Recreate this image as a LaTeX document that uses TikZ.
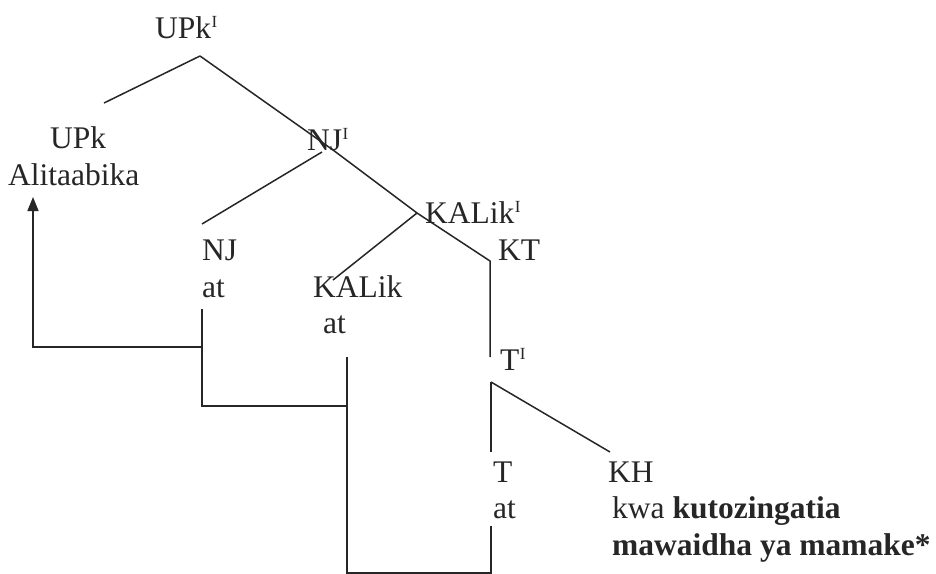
\documentclass[tikz,border=0pt]{standalone}
\usepackage{fontspec}
\setmainfont{Liberation Serif}
\usetikzlibrary{arrows.meta}
% small raised roman "I" marking bar-level categories
\newcommand{\barI}{\kern0.5pt\raisebox{11pt}{\fontsize{17}{17}\selectfont I}}
\begin{document}
\begin{tikzpicture}[x=1pt,y=-1pt,
  lbl/.style={anchor=base west, inner sep=0pt, text=black!85,
              font=\fontsize{31.5}{36}\selectfont},
  edge/.style={line width=1.5pt, draw=black!85},
  trace/.style={line width=1.5pt, draw=black!85}]
\useasboundingbox (0,0) rectangle (936,573);

% category labels
\node[lbl] (upkbar)  at (155,38)  {UPk\barI};
\node[lbl] (upk)     at (50,148)  {UPk};
\node[lbl] (upkw)    at (8,185)   {Alitaabika};
\node[lbl] (njbar)   at (307,150) {NJ\barI};
\node[lbl] (nj)      at (202,260) {NJ};
\node[lbl] (njat)    at (202,297) {at};
\node[lbl] (kalbar)  at (425,223) {KALik\barI};
\node[lbl] (kal)     at (313,297) {KALik};
\node[lbl] (kalat)   at (323,333) {at};
\node[lbl] (kt)      at (498,260) {KT};
\node[lbl] (tbar)    at (500,370) {T\barI};
\node[lbl] (t)       at (493,482) {T};
\node[lbl] (tat)     at (493,518) {at};
\node[lbl] (kh)      at (608,482) {KH};
\node[lbl] (khw1)    at (612,518) {kwa \textbf{kutozingatia}};
\node[lbl] (khw2)    at (612,555) {\textbf{mawaidha ya mamake*}};

% branch points
\coordinate (upkbarB) at (200,56);
\coordinate (upkT)    at (104,103);
\coordinate (njbarP)  at (333,150);
\coordinate (njbarB)  at (322,152);
\coordinate (njT)     at (202,224);
\coordinate (kalbarB) at (417,213);
\coordinate (kalT)    at (333,280);
\coordinate (ktT)     at (490,261);
\coordinate (ktB)     at (490,357);
\coordinate (tbarB)   at (491,382);
\coordinate (tT)      at (491,452);
\coordinate (khT)     at (610,452);

% tree branches
\draw[edge] (upkbarB) -- (upkT);
\draw[edge] (upkbarB) -- (njbarP) -- (kalbarB) -- (ktT) -- (ktB);
\draw[edge] (njbarB) -- (njT);
\draw[edge] (kalbarB) -- (kalT);
\draw[edge] (tbarB) -- (tT);
\draw[edge] (tbarB) -- (khT);

% trace links between empty positions
\coordinate (njS)   at (202,309);
\coordinate (njJ)   at (202,347);
\coordinate (njE)   at (202,406);
\coordinate (kalS)  at (347,357);
\coordinate (kalJ)  at (347,406);
\coordinate (kalE)  at (347,573.2);
\coordinate (tS)    at (491,526);
\coordinate (tE)    at (491,573.2);
\coordinate (leftC) at (33,347);
\coordinate (arrT)  at (33,197);

\draw[trace] (njS) -- (njE) -- (kalJ);
\draw[trace, -{Triangle[length=14pt,width=11pt]}] (njJ) -- (leftC) -- (arrT);
\draw[trace] (kalS) -- (kalE) -- (tE) -- (tS);
\end{tikzpicture}
\end{document}
